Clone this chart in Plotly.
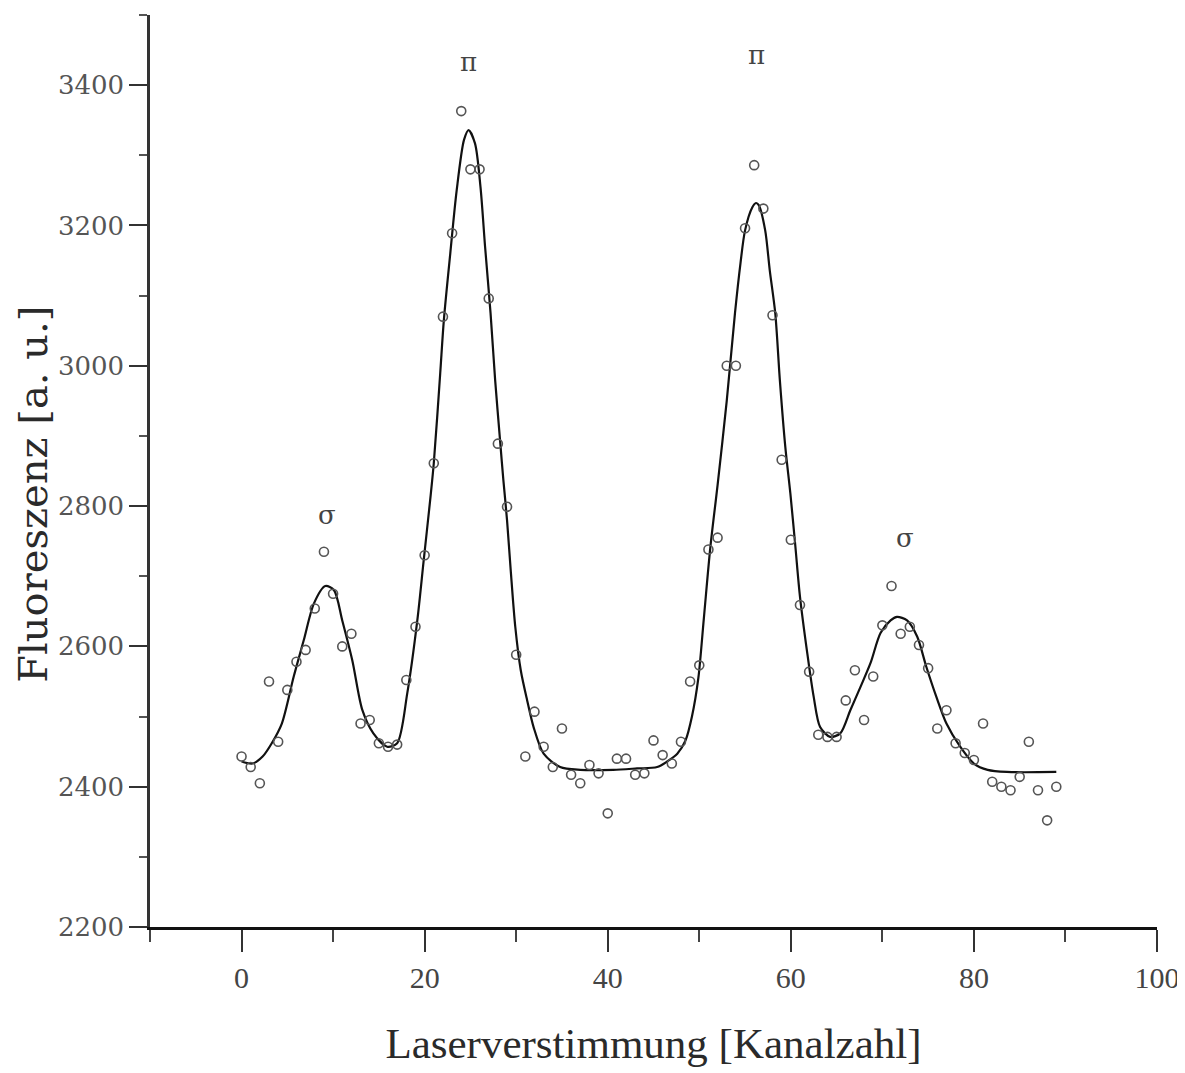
import plotly.graph_objects as go

# Measured data points (channel -> fluorescence)
channels = list(range(90))
counts = [2443, 2428, 2405, 2550, 2464, 2538, 2578, 2595, 2654, 2735,
          2675, 2600, 2618, 2490, 2495, 2462, 2457, 2460, 2552, 2628,
          2730, 2861, 3070, 3189, 3363, 3280, 3280, 3096, 2889, 2799,
          2588, 2443, 2507, 2457, 2428, 2483, 2417, 2405, 2431, 2419,
          2362, 2440, 2440, 2417, 2419, 2466, 2445, 2433, 2464, 2550,
          2573, 2738, 2755, 3000, 3000, 3196, 3286, 3224, 3072, 2866,
          2752, 2659, 2564, 2474, 2471, 2471, 2523, 2566, 2495, 2557,
          2630, 2686, 2618, 2628, 2602, 2569, 2483, 2509, 2462, 2448,
          2438, 2490, 2407, 2400, 2395, 2414, 2464, 2395, 2352, 2400]

# Fit curve
fit_x = [0, 1.2, 2.3, 3.3, 4.4, 5.7, 6.8, 7.9, 9.15, 10.1,
         11.0, 12.1, 13.2, 14.4, 15.9, 17.0, 18.1, 19.2, 19.9, 20.6,
         21.0, 21.7, 22.1, 22.8, 23.5, 24.3, 24.8, 25.5, 26.1, 26.6,
         27.2, 27.7, 28.3, 28.6, 29.0, 29.4, 29.9, 30.5, 31.2, 31.9,
         33.0, 34.8, 37.0, 40.6, 43.2, 45.4, 46.5, 47.6, 48.5, 49.2,
         49.9, 50.5, 51.2, 52.0, 53.0, 53.9, 54.5, 55.0, 55.8, 56.2,
         56.5, 57.2, 57.7, 58.3, 58.8, 59.4, 59.95, 60.5, 61.0, 61.8,
         62.5, 63.2, 64.3, 65.4, 66.5, 67.6, 68.7, 69.8, 70.9, 71.6,
         72.7, 73.8, 74.8, 75.9, 77.0, 78.5, 80.0, 81.5, 83.6, 89.0]
fit_y = [2436, 2433, 2443, 2462, 2490, 2557, 2609, 2661, 2686, 2680,
         2637, 2580, 2509, 2476, 2457, 2462, 2533, 2637, 2723, 2808,
         2861, 2989, 3065, 3160, 3250, 3322, 3336, 3317, 3255, 3170,
         3075, 2980, 2884, 2837, 2780, 2709, 2628, 2566, 2523, 2485,
         2447, 2428, 2424, 2424, 2426, 2428, 2436, 2447, 2466, 2500,
         2555, 2640, 2740, 2830, 2950, 3075, 3146, 3193, 3226, 3232,
         3229, 3193, 3136, 3075, 2980, 2884, 2818, 2742, 2671, 2590,
         2528, 2485, 2471, 2476, 2509, 2542, 2576, 2619, 2637, 2642,
         2637, 2614, 2571, 2528, 2490, 2457, 2433, 2424, 2421, 2421]

# Peak labels
peak_labels = ["σ", "π", "π", "σ"]
peak_label_x = [9.3, 24.8, 56.2, 72.5]
peak_label_y = [2787, 3433, 3443, 2754]

x_ticks = [0, 20, 40, 60, 80, 100]
y_ticks = [2200, 2400, 2600, 2800, 3000, 3200, 3400]

x_title = "Laserverstimmung [Kanalzahl]"
y_title = "Fluoreszenz [a. u.]"

SERIF = "Liberation Serif"
WIDE = "DejaVu Serif"
INK = "#2a2a2a"

fig = go.Figure()
fig.add_trace(go.Scatter(
    x=fit_x, y=fit_y, mode="lines",
    line=dict(color="#111111", width=2.2, shape="spline", smoothing=0.8),
    showlegend=False, hoverinfo="skip"))
fig.add_trace(go.Scatter(
    x=channels, y=counts, mode="markers",
    marker=dict(symbol="circle-open", size=9, color="#555555",
                line=dict(width=1.6, color="#555555")),
    showlegend=False))

for t, lx, ly in zip(peak_labels, peak_label_x, peak_label_y):
    fig.add_annotation(x=lx, y=ly, text=t, showarrow=False,
                       font=dict(family=WIDE, size=26, color="#444444"))

# y-axis title (placed slightly below the axis centre, as in the original)
fig.add_annotation(text=y_title, textangle=-90, showarrow=False,
                   xref="paper", yref="paper", x=0, y=0.474,
                   xanchor="center", yanchor="middle", xshift=-117,
                   font=dict(family=WIDE, size=40, color=INK))

# The page body adds an 8 px offset, margins compensate for it
fig.update_layout(
    width=1185, height=1073,
    margin=dict(l=142, r=36, t=7, b=154, autoexpand=False),
    paper_bgcolor="white", plot_bgcolor="white",
    font=dict(family=SERIF, color=INK),
)
fig.update_xaxes(
    range=[-10, 100], tickvals=x_ticks, ticktext=[str(v) for v in x_ticks],
    automargin=False,
    showgrid=False, zeroline=False, showline=True, linecolor="#111111", linewidth=2.5,
    ticks="outside", ticklen=22, tickwidth=2, tickcolor="#333333",
    minor=dict(dtick=10, tick0=0, ticks="outside", ticklen=12, tickwidth=2, tickcolor="#444444"),
    tickfont=dict(family=SERIF, size=30, color="#444444"),
    ticklabelstandoff=0,
    title=dict(text=x_title, font=dict(family=SERIF, size=43, color=INK), standoff=36),
)
fig.update_yaxes(
    range=[2200, 3500], tickvals=y_ticks, ticktext=[str(v) for v in y_ticks],
    automargin=False,
    showgrid=False, zeroline=False, showline=True, linecolor="#333333", linewidth=2.5,
    ticks="outside", ticklen=18, tickwidth=2, tickcolor="#333333",
    minor=dict(dtick=100, tick0=2200, ticks="outside", ticklen=8, tickwidth=2, tickcolor="#555555"),
    tickfont=dict(family=WIDE, size=26, color="#555555"),
    ticklabelstandoff=0,
)

fig.write_html("out.html")
